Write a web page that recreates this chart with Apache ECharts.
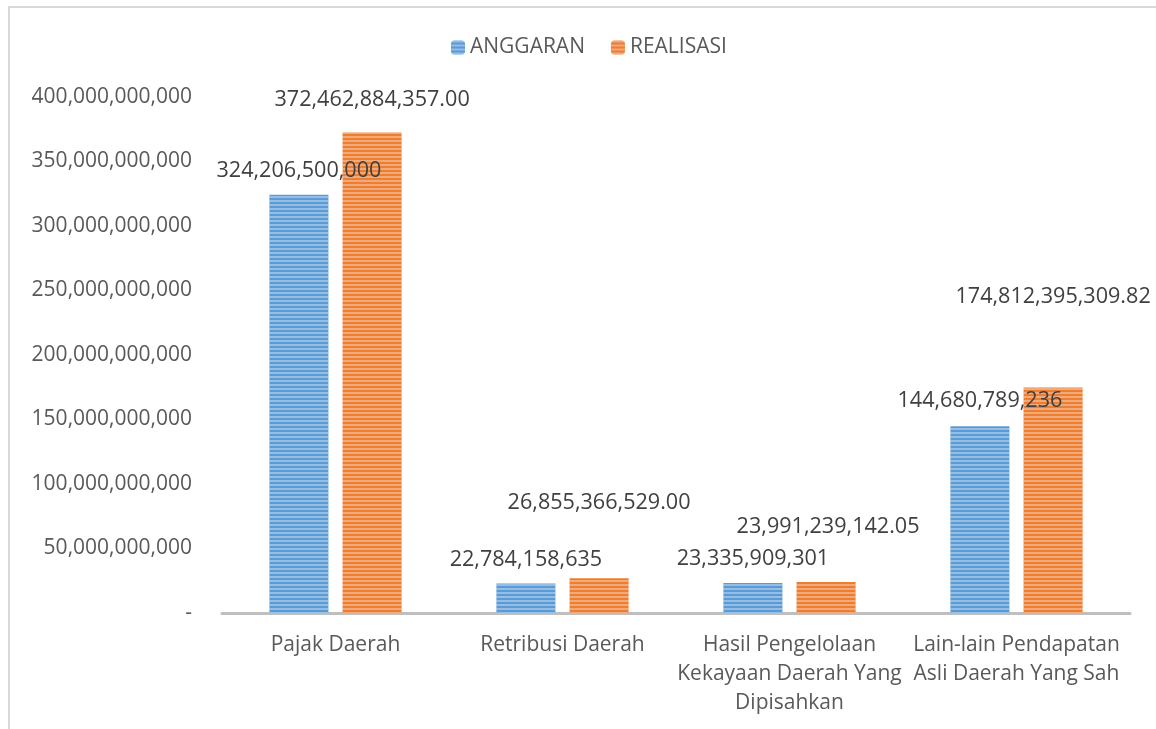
<!DOCTYPE html>
<html><head><meta charset="utf-8">
<script src="https://cdn.jsdelivr.net/npm/echarts@6/dist/echarts.min.js"></script>
<style>html,body{margin:0;padding:0;background:#fff}#c{width:1156px;height:729px}</style>
</head><body><div id="c"></div>
<script>
const categories = ['Pajak Daerah', 'Retribusi Daerah', 'Hasil Pengelolaan\nKekayaan Daerah Yang\nDipisahkan', 'Lain-lain Pendapatan\nAsli Daerah Yang Sah'];
const anggaran = [324206500000, 22784158635, 23335909301, 144680789236];
const realisasi = [372462884357.00, 26855366529.00, 23991239142.05, 174812395309.82];
const yTicks = [0, 50e9, 100e9, 150e9, 200e9, 250e9, 300e9, 350e9, 400e9];

const anggaranLabelDist = [13, 13, 13, 15];
const realisasiLabelDist = [22, 65, 44, 80];
const realisasiLabelDx = [0, 0, 2, 0];

function fmtInt(v){ return Math.round(v).toLocaleString('en-US'); }
function fmt2(v){ return v.toLocaleString('en-US',{minimumFractionDigits:2, maximumFractionDigits:2}); }

const FONT = 'Open Sans';
const TXT = '#595959';
const decal = {symbol:'rect', dashArrayX:[1,0], dashArrayY:[2,2], rotation:0, color:'rgba(255,255,255,0.35)'};

const chart = echarts.init(document.getElementById('c'));
chart.setOption({
  animation:false,
  textStyle:{fontFamily:FONT},
  graphic:[{type:'polyline', shape:{points:[[9,729],[9,7],[1156,7]]}, style:{stroke:'#D9D9D9', lineWidth:2, fill:null}}],
  legend:{top:32, left:446, itemWidth:14, itemHeight:14, itemGap:26,
    textStyle:{fontFamily:FONT, fontSize:21, color:TXT}, data:['ANGGARAN','REALISASI']},
  grid:{left:222, right:26, top:97, bottom:116, containLabel:false},
  xAxis:{type:'category', data:categories,
    axisLine:{lineStyle:{color:'#BFBFBF', width:3}}, axisTick:{show:false},
    axisLabel:{fontFamily:FONT, fontSize:21, color:TXT, margin:18, lineHeight:29, interval:0}},
  yAxis:{type:'value', min:0, max:400e9, interval:50e9,
    axisLine:{show:false}, axisTick:{show:false}, splitLine:{show:false},
    axisLabel:{fontFamily:FONT, fontSize:21, color:TXT, margin:30,
      formatter:v=> v===0 ? '-' : fmtInt(v)}},
  series:[
    {name:'ANGGARAN', type:'bar', barWidth:59, barGap:'24%',
      itemStyle:{color:'#5B9BD5', decal:decal},
      data:anggaran.map((v,i)=>({value:v, label:{distance:anggaranLabelDist[i]}})),
      label:{show:true, position:'top', fontFamily:FONT, fontSize:21.6, color:'#404040', formatter:p=>fmtInt(p.value)}},
    {name:'REALISASI', type:'bar', barWidth:59,
      itemStyle:{color:'#ED7D31', decal:decal},
      data:realisasi.map((v,i)=>({value:v, label:{distance:realisasiLabelDist[i], offset:[realisasiLabelDx[i],0]}})),
      label:{show:true, position:'top', fontFamily:FONT, fontSize:21.6, color:'#404040', formatter:p=>fmt2(p.value)}}
  ]
});
</script></body></html>
